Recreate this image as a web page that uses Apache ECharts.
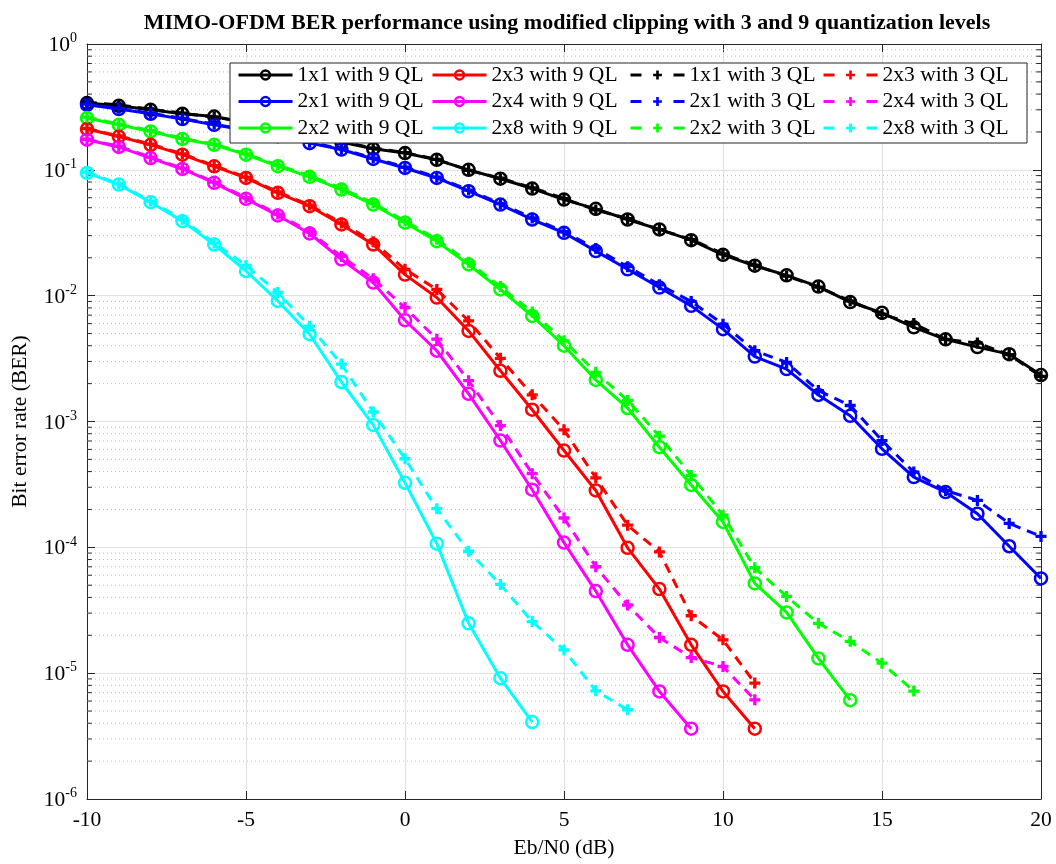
<!DOCTYPE html>
<html><head><meta charset="utf-8">
<script src="https://cdn.jsdelivr.net/npm/echarts@6/dist/echarts.min.js"></script>
<style>html,body{margin:0;padding:0;background:#fff}#c{width:1056px;height:864px}</style>
</head><body><div id="c"></div>
<script>
const EbN0 = [-10,-9,-8,-7,-6,-5,-4,-3,-2,-1,0,1,2,3,4,5,6,7,8,9,10,11,12,13,14,15,16,17,18,19,20];
const ber_1x1_9 = [0.339,0.323,0.300,0.279,0.265,0.238,0.212,0.188,0.166,0.147,0.136,0.120,0.100,0.085,0.071,0.058,0.049,0.0403,0.0336,0.0276,0.0211,0.0173,0.0145,0.0118,0.0089,0.0073,0.0056,0.0045,0.0039,0.00343,0.00234];
const ber_2x1_9 = [0.329,0.304,0.279,0.253,0.228,0.206,0.185,0.163,0.145,0.122,0.1035,0.0862,0.0676,0.053,0.0403,0.0316,0.0226,0.0162,0.0116,0.0083,0.00542,0.00328,0.00261,0.001625,0.00111,0.000607,0.000362,0.000275,0.000185,0.000102,0.0000566];
const ber_2x2_9 = [0.258,0.228,0.202,0.176,0.158,0.132,0.107,0.088,0.0697,0.053,0.038,0.0271,0.0177,0.0112,0.0069,0.0040,0.00214,0.00128,0.000625,0.000313,0.000159,0.0000517,0.0000304,0.0000131,0.0000061];
const ber_2x3_9 = [0.211,0.184,0.158,0.132,0.1066,0.0862,0.0656,0.0514,0.0368,0.0255,0.0147,0.00966,0.00525,0.00253,0.00124,0.000588,0.000283,0.0000991,0.0000466,0.0000168,0.00000716,0.00000362];
const ber_2x4_9 = [0.1735,0.152,0.124,0.1016,0.0788,0.0588,0.0434,0.0312,0.0194,0.0127,0.00638,0.00365,0.00166,0.000706,0.000287,0.000109,0.0000449,0.0000168,0.00000716,0.00000362];
const ber_2x8_9 = [0.0945,0.0763,0.0553,0.0391,0.0255,0.0157,0.00908,0.00494,0.00206,0.00094,0.000326,0.000107,0.0000249,0.00000913,0.00000409];
const ber_1x1_3 = [0.345,0.328,0.303,0.282,0.262,0.240,0.214,0.190,0.168,0.149,0.137,0.121,0.099,0.086,0.072,0.059,0.048,0.041,0.0335,0.028,0.0215,0.0175,0.0143,0.0117,0.0091,0.0071,0.0060,0.0045,0.0042,0.0034,0.00228];
const ber_2x1_3 = [0.333,0.308,0.282,0.256,0.231,0.208,0.187,0.166,0.147,0.124,0.105,0.0875,0.069,0.054,0.0415,0.0322,0.0237,0.0170,0.0122,0.0090,0.00594,0.00365,0.00295,0.00176,0.00134,0.000706,0.000396,0.000283,0.000236,0.000155,0.000122];
const ber_2x2_3 = [0.262,0.231,0.205,0.178,0.160,0.134,0.109,0.090,0.0715,0.0545,0.0392,0.0281,0.0184,0.0118,0.0074,0.00438,0.00246,0.00147,0.000765,0.000373,0.00018,0.0000688,0.0000407,0.0000249,0.0000179,0.000012,0.0000072];
const ber_2x3_3 = [0.213,0.186,0.160,0.134,0.108,0.0875,0.0668,0.0525,0.0378,0.0268,0.0162,0.0112,0.0063,0.00318,0.00163,0.000858,0.000357,0.00015,0.000092,0.0000286,0.0000184,0.00000834];
const ber_2x4_3 = [0.175,0.154,0.126,0.103,0.080,0.060,0.0445,0.0322,0.0205,0.0136,0.00805,0.00451,0.00211,0.000928,0.000385,0.000171,0.0000701,0.0000348,0.0000192,0.0000133,0.0000113,0.00000614];
const ber_2x8_3 = [0.096,0.0775,0.0565,0.0405,0.0262,0.0174,0.0106,0.00572,0.00286,0.00119,0.000506,0.000203,0.0000931,0.0000507,0.0000257,0.0000153,0.00000724,0.00000512];
const minorMult = [2,3,4,5,6,7,8,9];
const decades = [-6,-5,-4,-3,-2,-1];

const FONT = 'Liberation Serif';
const FS = 21.5;
const PLUS = 'path://M3.5,0H6.5V3.5H10V6.5H6.5V10H3.5V6.5H0V3.5H3.5Z';
const specs = [
  ['1x1 with 9 QL', ber_1x1_9, '#000000', false],
  ['2x1 with 9 QL', ber_2x1_9, '#0000ff', false],
  ['2x2 with 9 QL', ber_2x2_9, '#00ff00', false],
  ['2x3 with 9 QL', ber_2x3_9, '#ff0000', false],
  ['2x4 with 9 QL', ber_2x4_9, '#ff00ff', false],
  ['2x8 with 9 QL', ber_2x8_9, '#00ffff', false],
  ['1x1 with 3 QL', ber_1x1_3, '#000000', true],
  ['2x1 with 3 QL', ber_2x1_3, '#0000ff', true],
  ['2x2 with 3 QL', ber_2x2_3, '#00ff00', true],
  ['2x3 with 3 QL', ber_2x3_3, '#ff0000', true],
  ['2x4 with 3 QL', ber_2x4_3, '#ff00ff', true],
  ['2x8 with 3 QL', ber_2x8_3, '#00ffff', true]
];
const minorVals = [];
decades.forEach(d => minorMult.forEach(m => minorVals.push(m * Math.pow(10, d))));

const gridData = [];
const tickData = [];
minorVals.forEach(v => {
  gridData.push([-10, v], [20, v], [20, '-']);
  tickData.push([-10, v], [-9.85, v], [-9.85, '-'], [20, v], [19.85, v], [19.85, '-']);
});

const series = [];
series.push({
  type: 'line', data: gridData, silent: true, z: 1, symbol: 'none',
  connectNulls: false, animation: false,
  lineStyle: {type: [1,3], color: '#bdbdbd', width: 1}
});
series.push({
  type: 'line', data: tickData, silent: true, z: 1, symbol: 'none',
  connectNulls: false, animation: false,
  lineStyle: {type: 'solid', color: '#262626', width: 1}
});
specs.forEach(([name, vals, c, dashed]) => {
  series.push({
    name, type: 'line', z: dashed ? 4 : 3,
    data: vals.map((v, i) => [EbN0[i], v]),
    symbol: dashed ? PLUS : 'circle',
    symbolSize: dashed ? 11 : 12,
    showAllSymbol: true,
    lineStyle: {color: c, width: 3, type: dashed ? [10, 7] : 'solid'},
    itemStyle: dashed ? {color: c} : {color: 'rgba(255,255,255,0)', borderColor: c, borderWidth: 2.5},
    emphasis: {disabled: true},
    animation: false
  });
});

const legendCols = [
  ['1x1 with 9 QL','2x1 with 9 QL','2x2 with 9 QL'],
  ['2x3 with 9 QL','2x4 with 9 QL','2x8 with 9 QL'],
  ['1x1 with 3 QL','2x1 with 3 QL','2x2 with 3 QL'],
  ['2x3 with 3 QL','2x4 with 3 QL','2x8 with 3 QL']
];
const legendLeft = [237, 431, 629, 822];
const legends = legendCols.map((col, i) => ({
  data: col, orient: 'vertical', left: legendLeft[i], top: 64, z: 110, padding: 0,
  itemWidth: 54, itemHeight: 11, itemGap: 4.5, selectedMode: false,
  lineStyle: i < 2 ? {width: 3} : {width: 3, type: [11, 32]},
  itemStyle: i < 2 ? {borderWidth: 2.5} : {},
  textStyle: {fontFamily: FONT, fontSize: FS, lineHeight: 22, color: '#000'}
}));

const supLabel = v => {
  const e = Math.round(Math.log10(v));
  return '{b|10}{s|' + e + '}';
};

const option = {
  backgroundColor: '#fff',
  animation: false,
  title: {
    text: 'MIMO-OFDM BER performance using modified clipping with 3 and 9 quantization levels',
    left: 562, top: 7, textAlign: 'center',
    textStyle: {fontFamily: FONT, fontSize: 22, fontWeight: 'bold', color: '#000'}
  },
  grid: {left: 87, right: 15, top: 44, bottom: 63, containLabel: false},
  legend: legends,
  graphic: [{
    type: 'rect', z: 100, shape: {x: 230, y: 63, width: 797, height: 80},
    style: {fill: '#fff', stroke: '#262626', lineWidth: 1}
  }],
  xAxis: [{
    type: 'value', min: -10, max: 20, interval: 5,
    name: 'Eb/N0 (dB)', nameLocation: 'middle', nameGap: 38,
    nameTextStyle: {fontFamily: FONT, fontSize: FS, color: '#000'},
    axisLine: {show: true, onZero: false, lineStyle: {color: '#262626', width: 1}},
    axisTick: {show: true, inside: true, length: 8, lineStyle: {color: '#262626'}},
    axisLabel: {fontFamily: FONT, fontSize: FS, color: '#000', margin: 10},
    splitLine: {show: true, lineStyle: {color: '#e0e0e0', width: 1}}
  }, {
    type: 'value', min: -10, max: 20, interval: 5, position: 'top',
    axisLine: {show: true, onZero: false, lineStyle: {color: '#262626', width: 1}},
    axisTick: {show: true, inside: true, length: 8, lineStyle: {color: '#262626'}},
    axisLabel: {show: false}, splitLine: {show: false}
  }],
  yAxis: [{
    type: 'log', logBase: 10, min: 1e-6, max: 1, splitNumber: 6,
    name: 'Bit error rate (BER)', nameLocation: 'middle', nameGap: 56,
    nameTextStyle: {fontFamily: FONT, fontSize: FS, color: '#000'},
    axisLine: {show: true, onZero: false, lineStyle: {color: '#262626', width: 1}},
    axisTick: {show: true, inside: true, length: 8, lineStyle: {color: '#262626'}},
    axisLabel: {
      formatter: supLabel, margin: 10,
      rich: {
        b: {fontFamily: FONT, fontSize: FS, color: '#000', verticalAlign: 'bottom'},
        s: {fontFamily: FONT, fontSize: 14, color: '#000', verticalAlign: 'bottom', padding: [0, 0, 11, 0]}
      }
    },
    splitLine: {show: true, lineStyle: {color: '#e0e0e0', width: 1}}
  }, {
    type: 'log', logBase: 10, min: 1e-6, max: 1, splitNumber: 6, position: 'right',
    axisLine: {show: true, onZero: false, lineStyle: {color: '#262626', width: 1}},
    axisTick: {show: true, inside: true, length: 8, lineStyle: {color: '#262626'}},
    axisLabel: {show: false}, splitLine: {show: false}
  }],
  series
};
const chart = echarts.init(document.getElementById('c'), null, {renderer: 'canvas'});
chart.setOption(option);
</script></body></html>
